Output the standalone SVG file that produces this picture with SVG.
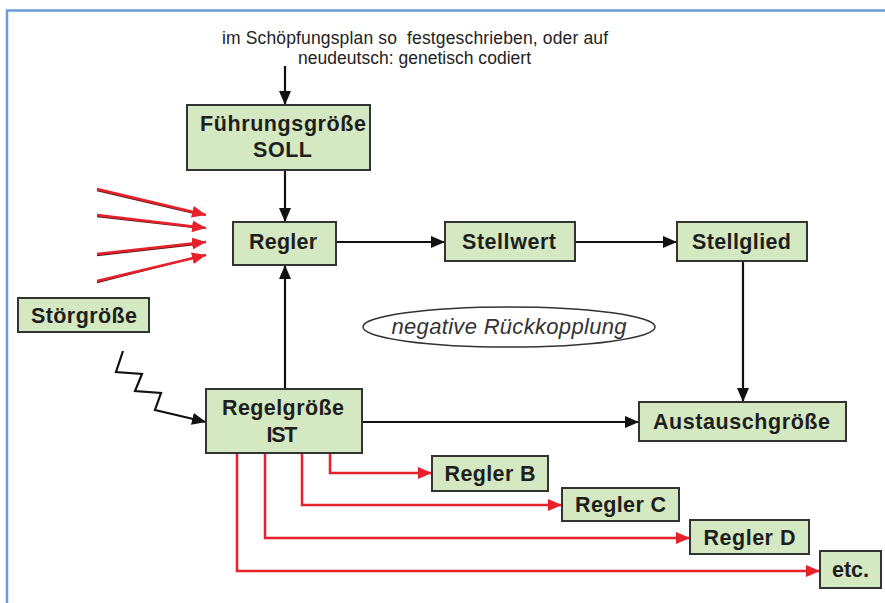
<svg xmlns="http://www.w3.org/2000/svg" width="885" height="603" viewBox="0 0 885 603">
<style>
.box{fill:#d4e9c2;stroke:#333;stroke-width:2}
.lbl{font-family:"Liberation Sans",Arial,sans-serif;font-weight:bold;font-size:21.5px;fill:#1e1e1e;text-anchor:middle}
.note{font-family:"Liberation Sans",Arial,sans-serif;font-size:17.5px;fill:#222;text-anchor:middle}
.blk{fill:none;stroke:#111;stroke-width:2.2}
.red{fill:none;stroke:#e8202a;stroke-width:2.5}
.shd{fill:none;stroke:#5a1a1a;stroke-width:1.5}
</style>
<defs>
<marker id="ab" viewBox="0 0 14 12" refX="14" refY="6" markerWidth="14" markerHeight="12" orient="auto" markerUnits="userSpaceOnUse"><path d="M0,0 L14,6 L0,12 z" fill="#111"/></marker>
<marker id="ar" viewBox="0 0 14 12" refX="14" refY="6" markerWidth="14" markerHeight="12" orient="auto" markerUnits="userSpaceOnUse"><path d="M0,0 L14,6 L0,12 z" fill="#e8202a"/></marker>
</defs>
<rect width="885" height="603" fill="#fff"/>
<path d="M7,603 V10.5 H885" fill="none" stroke="#6e9bd6" stroke-width="2.5"/>

<text class="note" x="415" y="44" textLength="386" xml:space="preserve">im Schöpfungsplan so  festgeschrieben, oder auf</text>
<text class="note" x="414.5" y="64" textLength="233">neudeutsch: genetisch codiert</text>

<g id="connectors">
<path class="blk" d="M285,66 V105" marker-end="url(#ab)"/>
<path class="blk" d="M285,170 V222" marker-end="url(#ab)"/>
<path class="blk" d="M285,389 V265" marker-end="url(#ab)"/>
<path class="blk" d="M336,242 H445" marker-end="url(#ab)"/>
<path class="blk" d="M575,242 H677" marker-end="url(#ab)"/>
<path class="blk" d="M743,261 V402" marker-end="url(#ab)"/>
<path class="blk" d="M362,422 H639" marker-end="url(#ab)"/>
<path class="blk" d="M123,351 L116,372 L142,374 L135,391 L161,393 L155,410 L206,422" marker-end="url(#ab)"/>
<path class="shd" d="M97,190.5 L195,213.5"/>
<path class="shd" d="M97,216.5 L195,227.5"/>
<path class="shd" d="M97,255.5 L195,244.5"/>
<path class="shd" d="M97,282.5 L195,257.5"/>
<path class="red" d="M97,189 L206,215" marker-end="url(#ar)"/>
<path class="red" d="M97,215 L206,228" marker-end="url(#ar)"/>
<path class="red" d="M97,254 L206,242" marker-end="url(#ar)"/>
<path class="red" d="M97,281 L206,255" marker-end="url(#ar)"/>
<path class="red" d="M330,453 V473 H432" marker-end="url(#ar)"/>
<path class="red" d="M302,453 V505 H562" marker-end="url(#ar)"/>
<path class="red" d="M265,453 V538 H690" marker-end="url(#ar)"/>
<path class="red" d="M237,453 V571 H820" marker-end="url(#ar)"/>
</g>

<g id="fuehrungsgroesse">
<rect class="box" x="187" y="105" width="183" height="65"/>
<text class="lbl" x="283" y="131" textLength="166">Führungsgröße</text>
<text class="lbl" x="282.5" y="157" textLength="59">SOLL</text>
</g>
<g id="regler">
<rect class="box" x="233" y="222" width="103" height="43"/>
<text class="lbl" x="283" y="249" textLength="68">Regler</text>
</g>
<g id="stellwert">
<rect class="box" x="445" y="222" width="130" height="39"/>
<text class="lbl" x="509" y="249" textLength="94">Stellwert</text>
</g>
<g id="stellglied">
<rect class="box" x="677" y="222" width="130" height="39"/>
<text class="lbl" x="741.5" y="249" textLength="99">Stellglied</text>
</g>
<g id="stoergroesse">
<rect class="box" x="18" y="298" width="131" height="34"/>
<text class="lbl" x="84" y="323" textLength="106">Störgröße</text>
</g>
<g id="rueckkopplung">
<ellipse cx="509" cy="327" rx="146" ry="20" fill="#fff" stroke="#333" stroke-width="1.5"/>
<text x="509" y="334" font-family="'Liberation Sans',Arial,sans-serif" font-style="italic" font-size="22" fill="#333" text-anchor="middle" textLength="235">negative Rückkopplung</text>
</g>
<g id="regelgroesse">
<rect class="box" x="206" y="389" width="156" height="64"/>
<text class="lbl" x="283" y="415" textLength="122">Regelgröße</text>
<text class="lbl" x="282" y="442" textLength="31">IST</text>
</g>
<g id="austauschgroesse">
<rect class="box" x="639" y="402" width="207" height="39"/>
<text class="lbl" x="741.5" y="429" textLength="177">Austauschgröße</text>
</g>
<g id="regler-b">
<rect class="box" x="432" y="456" width="116" height="35"/>
<text class="lbl" x="490" y="481" textLength="91">Regler B</text>
</g>
<g id="regler-c">
<rect class="box" x="562" y="488" width="117" height="33"/>
<text class="lbl" x="620.5" y="512" textLength="91">Regler C</text>
</g>
<g id="regler-d">
<rect class="box" x="690" y="520" width="119" height="34"/>
<text class="lbl" x="749.5" y="545" textLength="92">Regler D</text>
</g>
<g id="etc">
<rect class="box" x="820" y="551" width="61" height="37"/>
<text class="lbl" x="850.5" y="577">etc.</text>
</g>
</svg>
